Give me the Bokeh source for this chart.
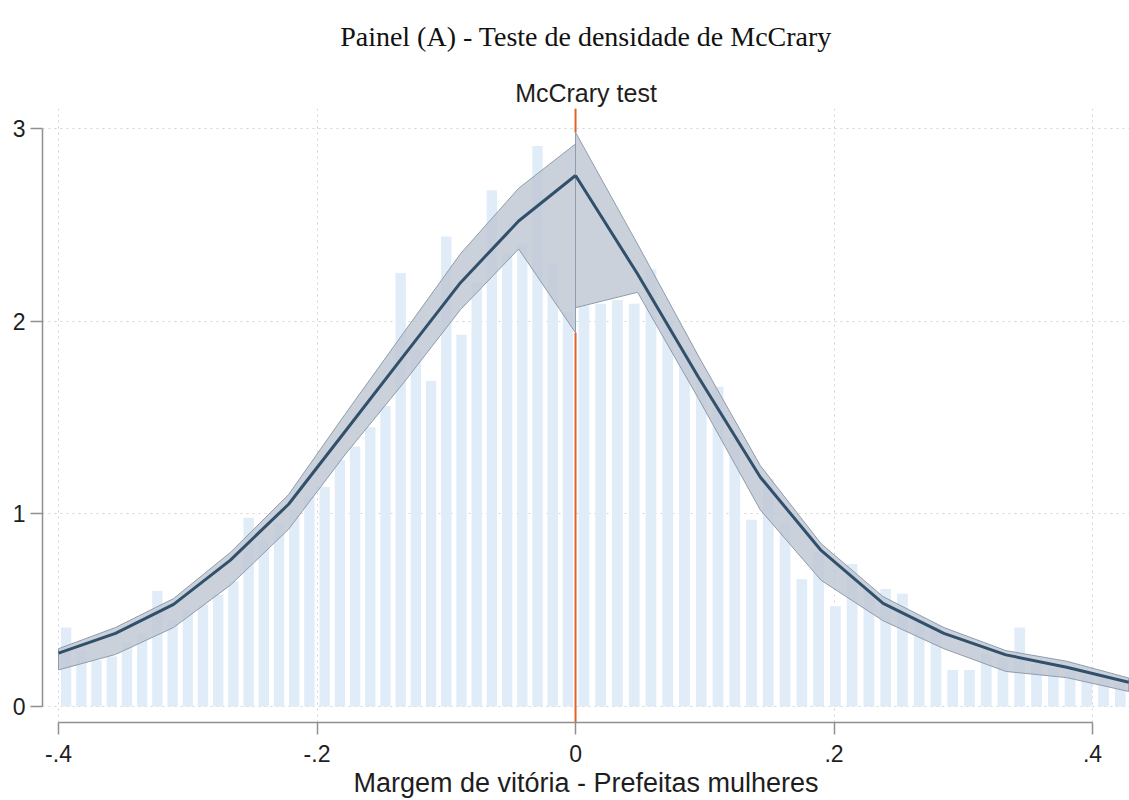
import numpy as np
from bokeh.plotting import figure
from bokeh.models import Range1d, FixedTicker, CustomJSTickFormatter, Title
from bokeh.embed import file_html
from bokeh.resources import INLINE

# ---------------- data ----------------
cutoff = 0.0
left_start = -0.4
left_bin_width = 0.4 / 34
right_bin_width = 0.428 / 33

left_hist = [0.41, 0.29, 0.24, 0.26, 0.33, 0.38, 0.60, 0.45, 0.50, 0.53,
             0.58, 0.65, 0.98, 0.86, 0.95, 1.02, 1.09, 1.14, 1.28, 1.35,
             1.45, 1.56, 2.25, 1.85, 1.69, 2.44, 1.93, 2.20, 2.68, 2.35,
             2.40, 2.91, 2.30, 2.05]
right_hist = [2.08, 2.09, 2.11, 2.09, 2.27, 2.00, 1.85, 1.70, 1.66, 1.40,
              0.97, 1.18, 0.95, 0.66, 0.80, 0.52, 0.74, 0.60, 0.61, 0.585,
              0.45, 0.42, 0.19, 0.19, 0.27, 0.25, 0.41, 0.22, 0.20, 0.18,
              0.16, 0.15, 0.12]

left_grid = [-0.400, -0.356, -0.311, -0.267, -0.222, -0.178, -0.133, -0.089, -0.044, 0.0]
left_fit = [0.277, 0.38, 0.53, 0.76, 1.05, 1.43, 1.82, 2.20, 2.52, 2.756]
left_hi = [0.30, 0.41, 0.56, 0.80, 1.10, 1.52, 1.94, 2.35, 2.69, 2.92]
left_lo = [0.19, 0.27, 0.41, 0.63, 0.92, 1.31, 1.68, 2.06, 2.375, 1.94]

right_grid = [0.0, 0.048, 0.095, 0.143, 0.190, 0.238, 0.285, 0.333, 0.380, 0.428]
right_fit = [2.756, 2.245, 1.71, 1.19, 0.81, 0.535, 0.38, 0.268, 0.204, 0.126]
right_hi = [2.98, 2.40, 1.82, 1.25, 0.845, 0.57, 0.41, 0.29, 0.235, 0.148]
right_lo = [2.07, 2.15, 1.60, 1.02, 0.655, 0.445, 0.30, 0.182, 0.15, 0.078]

x_ticks = [-0.4, -0.2, 0.0, 0.2, 0.4]
y_ticks = [0, 1, 2, 3]

main_title = "Painel (A) - Teste de densidade de McCrary"
sub_title = "McCrary test"
x_title = "Margem de vitória - Prefeitas mulheres"

# ---------------- derived ----------------
left_centers = left_start + left_bin_width * (np.arange(len(left_hist)) + 0.5)
right_centers = cutoff + right_bin_width * (np.arange(len(right_hist)) + 0.5)

x_start, x_end = -0.4124, 0.4286
y_start, y_end = -0.083, 3.104

p = figure(width=1129, height=800, output_backend="svg", toolbar_location=None,
           x_range=Range1d(x_start, x_end), y_range=Range1d(y_start, y_end),
           min_border_left=42, min_border_right=0, min_border_top=108,
           min_border_bottom=78)
p.outline_line_color = None
p.background_fill_color = "white"
p.border_fill_color = "white"

# titles
p.add_layout(Title(text=sub_title, align="center", vertical_align="bottom",
                   text_font="Liberation Sans", text_font_size="25px",
                   text_font_style="normal", text_color="#1e1e1e",
                   standoff=4), "above")
p.add_layout(Title(text=main_title, align="center", vertical_align="top",
                   text_font="Liberation Serif", text_font_size="28px",
                   text_font_style="normal", text_color="#111111",
                   standoff=41), "above")

# grid
p.xgrid.ticker = FixedTicker(ticks=x_ticks)
p.ygrid.ticker = FixedTicker(ticks=y_ticks)
for g in (p.xgrid, p.ygrid):
    g.grid_line_color = "#d4d4d4"
    g.grid_line_dash = "2 4"
    g.grid_line_width = 1

# axes
xa = p.xaxis[0]
xa.ticker = FixedTicker(ticks=x_ticks)
xa.formatter = CustomJSTickFormatter(code="""
const s = tick.toFixed(1);
if (s === "0.0" || s === "-0.0") { return "0"; }
return s.replace("0.", ".");
""")
xa.bounds = (-0.4, 0.4)
xa.axis_label = x_title
ya = p.yaxis[0]
ya.ticker = FixedTicker(ticks=y_ticks)
ya.bounds = (0, 3)
for a in (xa, ya):
    a.axis_line_color = "#8f8f8f"
    a.axis_line_width = 1.5
    a.major_tick_line_color = "#8f8f8f"
    a.major_tick_line_width = 1.5
    a.major_tick_out = 12
    a.major_tick_in = 0
    a.minor_tick_line_color = None
    a.major_label_text_font = "Liberation Sans"
    a.major_label_text_font_size = "23px"
    a.major_label_text_color = "#1e1e1e"
xa.major_label_standoff = 10
ya.major_label_standoff = 5
xa.axis_label_text_font = "Liberation Sans"
xa.axis_label_text_font_size = "27px"
xa.axis_label_text_font_style = "normal"
xa.axis_label_text_color = "#1e1e1e"
xa.axis_label_standoff = 3

# histogram bars
bar_color = "#e0ecf8"
p.vbar(x=left_centers, top=left_hist, bottom=0, width=left_bin_width * 0.68,
       fill_color=bar_color, line_color=None)
p.vbar(x=right_centers, top=right_hist, bottom=0, width=right_bin_width * 0.64,
       fill_color=bar_color, line_color=None)

# cutoff line (outside the confidence bands)
cut_color = "#e0622b"
band_low_at_cut = min(left_lo[-1], right_lo[0])
band_high_at_cut = max(left_hi[-1], right_hi[0])
p.segment(x0=[cutoff, cutoff], x1=[cutoff, cutoff],
          y0=[y_start, band_high_at_cut], y1=[band_low_at_cut, y_end],
          line_color=cut_color, line_width=2)

# confidence bands
band_fill = "#bec7d3"
band_line = "#8e9cad"
for gx, hi, lo in ((left_grid, left_hi, left_lo), (right_grid, right_hi, right_lo)):
    xs = list(gx) + list(gx)[::-1]
    ys = list(hi) + list(lo)[::-1]
    p.patch(xs, ys, fill_color=band_fill, fill_alpha=0.82,
            line_color=band_line, line_width=1)

# fitted density
fit_color = "#31506b"
p.line(left_grid, left_fit, line_color=fit_color, line_width=3)
p.line(right_grid, right_fit, line_color=fit_color, line_width=3)

open("out.html", "w").write(file_html(p, INLINE))
